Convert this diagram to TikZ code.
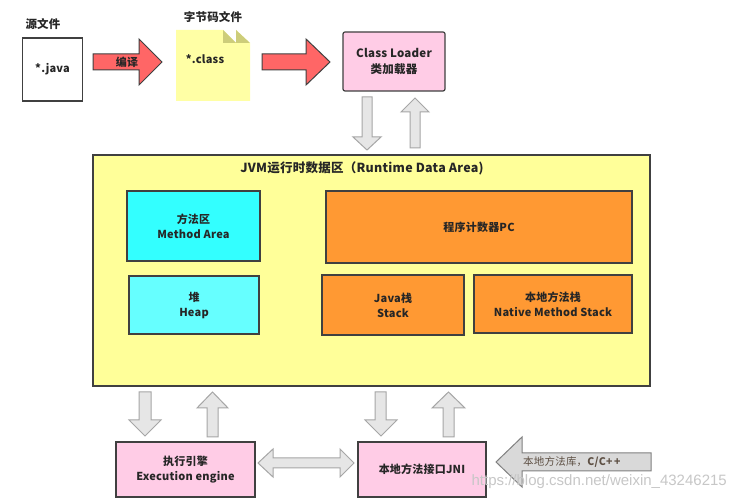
\documentclass[tikz,border=0pt]{standalone}
\usepackage{fontspec}
\setmainfont{Noto Sans CJK SC}[LetterSpace=2]
\newfontfamily\wmfont{Liberation Sans}
\definecolor{edge}{HTML}{404040}
\definecolor{txt}{HTML}{262626}
\definecolor{redfill}{HTML}{FF6666}
\definecolor{notefill}{HTML}{FFFFA5}
\definecolor{foldfill}{HTML}{CDCD7A}
\definecolor{pinkfill}{HTML}{FFCCE6}
\definecolor{jvmfill}{HTML}{FFFF99}
\definecolor{cyanA}{HTML}{33FFFF}
\definecolor{cyanB}{HTML}{66FFFF}
\definecolor{orangefill}{HTML}{FF9933}
\definecolor{arrowgray}{HTML}{E6E6E6}
\definecolor{arrowedge}{HTML}{A6A6A6}
\definecolor{libfill}{HTML}{D9D9D9}
\definecolor{libedge}{HTML}{808080}
\definecolor{libtxt}{HTML}{5E5044}
\tikzset{
  box/.style={draw=edge, line width=1.2pt, inner sep=0pt, align=center, text=txt,
              font=\fontsize{11}{15}\selectfont\bfseries},
  lbl/.style={inner sep=0pt, text=txt, font=\fontsize{11.5}{14}\selectfont\bfseries},
  redarrow/.style={fill=redfill, draw=edge, line width=1pt, line join=miter},
  grayarrow/.style={fill=arrowgray, draw=arrowedge, line width=1pt},
}
\begin{document}
\begin{tikzpicture}[x=1pt,y=-1pt]
\useasboundingbox[fill=white] (0,0) rectangle (734,502);

% source file
\node[lbl] (srclbl) at (43,24) {源文件};
\node[box, fill=white, minimum width=60pt, minimum height=63pt, font=\fontsize{11}{14}\selectfont\bfseries] (java) at (52.5,69.5) {*.java};

% compile arrow
\draw[redarrow] (93,54)--(139,54)--(139,39)--(162,62)--(139,85)--(139,70)--(93,70)--cycle;
\node[lbl, font=\fontsize{11}{14}\selectfont\bfseries] (compile) at (127,62) {编译};

% class file note
\fill[notefill] (176,30)--(223,30)--(236,43)--(236,30)--(250,43)--(250,101)--(176,101)--cycle;
\fill[foldfill] (223,30)--(223,43)--(236,43)--cycle;
\fill[foldfill] (236,30)--(236,43)--(250,43)--cycle;
\node[lbl] (notelbl) at (213,17) {字节码文件};
\node[lbl, font=\fontsize{11}{14}\selectfont\bfseries] (class) at (205,59) {*.class};

% second red arrow
\draw[redarrow] (262,54)--(306,54)--(306,39)--(330,62)--(306,85)--(306,70)--(262,70)--cycle;

% class loader
\node[box, fill=pinkfill, rounded corners=2pt, minimum width=102pt, minimum height=59pt,
      font=\fontsize{11.5}{16}\selectfont\bfseries] (loader) at (394,61.5) {Class Loader\\类加载器};

% arrows loader <-> JVM
\draw[grayarrow] (362,97)--(372,97)--(372,137)--(381,137)--(367,150)--(353,137)--(362,137)--cycle;
\draw[grayarrow] (410,148)--(410,112)--(401,112)--(415,98)--(429,112)--(420,112)--(420,148)--cycle;

% JVM runtime data area
\node[box, fill=jvmfill, minimum width=557pt, minimum height=231pt] (jvm) at (371.5,270.5) {};
\node[lbl, font=\fontsize{12.5}{15}\selectfont\bfseries] (jvmtitle) at (362,168) {JVM运行时数据区（Runtime Data Area)};

\node[box, fill=cyanA, minimum width=133pt, minimum height=70pt] (method) at (193.5,226) {方法区\\Method Area};
\node[box, fill=cyanB, minimum width=130pt, minimum height=58pt] (heap) at (194,305) {堆\\Heap};
\node[box, fill=orangefill, minimum width=306pt, minimum height=72pt] (pc) at (479,227) {程序计数器PC};
\node[box, fill=orangefill, minimum width=142pt, minimum height=60pt] (jstack) at (393,305) {Java栈\\Stack};
\node[box, fill=orangefill, minimum width=158pt, minimum height=58pt] (nstack) at (553,304) {本地方法栈\\Native Method Stack};

% arrows JVM <-> bottom boxes
\draw[grayarrow] (139,392)--(151,392)--(151,420)--(161,420)--(145,436)--(129,420)--(139,420)--cycle;
\draw[grayarrow] (207,437)--(207,408)--(197,408)--(212.5,392)--(228,408)--(218,408)--(218,437)--cycle;
\draw[grayarrow] (375,392)--(386,392)--(386,420)--(397,420)--(381,436)--(365,420)--(375,420)--cycle;
\draw[grayarrow] (443,437)--(443,408)--(432,408)--(448.5,392)--(465,408)--(454,408)--(454,437)--cycle;

% execution engine and JNI
\node[box, fill=pinkfill, minimum width=139pt, minimum height=55pt] (exec) at (185.5,469.5) {执行引擎\\Execution engine};
\node[box, fill=pinkfill, minimum width=128pt, minimum height=55pt] (jni) at (422,469.5) {本地方法接口JNI};

% double arrow
\draw[grayarrow] (258,463)--(273,449)--(273,458)--(340,458)--(340,449)--(354,463)--(340,477)--(340,468)--(273,468)--(273,477)--cycle;

% native library arrow
\draw[fill=libfill, draw=libedge, line width=1pt] (651,453)--(522,453)--(522,437)--(496,462)--(522,487)--(522,471)--(651,471)--cycle;
\node[anchor=west, inner sep=0pt, text=libtxt, font=\fontsize{10.5}{12}\selectfont] (lib) at (523,462) {本地方法库，\textbf{C/C+\,+}};

% watermark
\node[anchor=east, inner sep=0pt, text=black!22, font=\wmfont\fontsize{15}{17}\selectfont] (wm) at (727,482) {https://blog.csdn.net/weixin\_43246215};
\end{tikzpicture}
\end{document}
